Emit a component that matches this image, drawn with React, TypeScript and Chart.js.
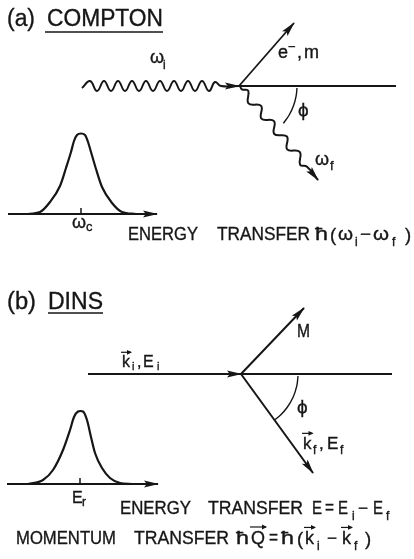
import React, { useEffect, useRef } from 'react';
import { Chart, registerables } from 'chart.js';

Chart.register(...registerables);

// ---------- data (diagram coordinates, x 0..414, y 0..559 downwards) ----------
// (a) Compton: resonance peak
const peakAX = [26, 40, 50, 60, 66, 71, 74, 77, 81, 85, 88, 91, 96, 102, 112, 122, 136];
const peakAY = [214, 212, 202, 186, 168, 152, 141, 135, 133.5, 135, 142, 152, 169, 187, 203, 212, 214];
const axisAX = [8, 157];
const axisAY = [214, 214];
const tickAX = [81, 81];
const tickAY = [208, 214];
// incident photon (wavy) ending at the vertex
const waveAX = [82, 90, 97, 104, 111, 118, 125, 132, 139, 146, 153, 160, 167, 174, 181, 188, 195, 202, 209, 215, 221, 239];
const waveAY = [88, 81, 91, 81, 91, 81, 91, 81, 91, 81, 91, 81, 91, 81, 91, 81, 91, 81, 91, 82, 86, 86];
// reference line, recoil electron, scattered photon, angle arc
const refAX = [239, 396];
const refAY = [86, 86];
const elecX = [239, 294];
const elecY = [86, 23];
const photX = [240, 241.9, 248.2, 248.5, 261.1, 261.4, 274.0, 274.3, 286.9, 287.2, 299.7, 300.1, 307.0, 318];
const photY = [86, 89.3, 90.6, 103.4, 105.9, 118.7, 121.2, 134.0, 136.5, 149.3, 151.8, 164.7, 166.7, 180];
const arcAX = [297.0, 296.1, 293.5, 289.2, 283.4];
const arcAY = [88.0, 96.1, 105.8, 115.0, 123.3];

// (b) DINS
const peakBX = [28, 43, 53, 63, 70, 74, 78, 80.5, 83, 87, 91, 95, 102, 110, 120, 132];
const peakBY = [484, 480, 470, 450, 430, 417, 411.5, 411, 411.5, 420, 437, 453, 468, 478, 483, 484];
const axisBX = [7, 158];
const axisBY = [484, 484];
const tickBX = [80, 80];
const tickBY = [478, 484];
const inBX = [88, 241];
const inBY = [374, 374];
const refBX = [241, 392];
const refBY = [374, 374];
const mX = [241, 304];
const mY = [374, 308];
const kfX = [241, 313];
const kfY = [374, 473];
const arcBX = [298.0, 296.8, 293.1, 287.1, 280.6, 274.5];
const arcBY = [376.0, 385.9, 397.2, 407.5, 415.0, 420.1];

// ---------- text ----------
type Tok = { t: string; x: number; y: number; s: number; w?: number; vec?: boolean };
const titleTokens: Tok[] = [
  { t: '(a)', x: 7, y: 26, s: 23, w: 28 },
  { t: 'COMPTON', x: 47, y: 26, s: 23, w: 116 },
  { t: '(b)', x: 7, y: 309, s: 23, w: 29 },
  { t: 'DINS', x: 48, y: 309, s: 23, w: 55 },
];
const underlines = [
  { x1: 45, x2: 163, y: 32 },
  { x1: 48, x2: 103, y: 313 },
];
const labelTokens: Tok[] = [
  // (a)
  { t: 'ω', x: 150, y: 63, s: 18 },
  { t: 'i', x: 163, y: 69, s: 12 },
  { t: 'e', x: 278, y: 58, s: 18 },
  { t: '−', x: 288, y: 51, s: 13 },
  { t: ',', x: 297, y: 58, s: 18 },
  { t: 'm', x: 304, y: 58, s: 18 },
  { t: 'ϕ', x: 298, y: 116, s: 19 },
  { t: 'ω', x: 315, y: 165, s: 18 },
  { t: 'f', x: 330, y: 170, s: 13 },
  { t: 'ω', x: 72, y: 228, s: 18 },
  { t: 'c', x: 86, y: 231, s: 13 },
  { t: 'ENERGY', x: 128, y: 240, s: 18.5, w: 70 },
  { t: 'TRANSFER', x: 217, y: 240, s: 18.5, w: 93 },
  { t: 'ħ', x: 315, y: 240, s: 18.5, w: 13 },
  { t: '(', x: 330, y: 241, s: 18.5 },
  { t: 'ω', x: 338, y: 240, s: 18, w: 15 },
  { t: 'i', x: 355, y: 246, s: 12 },
  { t: '−', x: 360, y: 240, s: 18, w: 11 },
  { t: 'ω', x: 373, y: 240, s: 18, w: 16 },
  { t: 'f', x: 392, y: 246, s: 12 },
  { t: ')', x: 405, y: 241, s: 18.5 },
  // (b)
  { t: 'k', x: 122, y: 367, s: 16, vec: true },
  { t: 'i', x: 132, y: 370, s: 11 },
  { t: ',', x: 137, y: 367, s: 16 },
  { t: 'E', x: 143, y: 367, s: 16 },
  { t: 'i', x: 157, y: 370, s: 11 },
  { t: 'M', x: 297, y: 337, s: 18, w: 13 },
  { t: 'ϕ', x: 297, y: 413, s: 19 },
  { t: 'k', x: 303, y: 449, s: 17, vec: true },
  { t: 'f', x: 313, y: 454, s: 12 },
  { t: ',', x: 319, y: 449, s: 17 },
  { t: 'E', x: 327, y: 449, s: 17 },
  { t: 'f', x: 340, y: 454, s: 12 },
  { t: 'E', x: 72, y: 503, s: 16 },
  { t: 'r', x: 82, y: 506, s: 12 },
  { t: 'ENERGY', x: 120, y: 514, s: 18.5, w: 71 },
  { t: 'TRANSFER', x: 208, y: 514, s: 18.5, w: 95 },
  { t: 'E', x: 312, y: 514, s: 18.5, w: 10 },
  { t: '=', x: 325, y: 513, s: 18, w: 9 },
  { t: 'E', x: 338, y: 514, s: 18.5, w: 10 },
  { t: 'i', x: 352, y: 520, s: 12 },
  { t: '−', x: 358, y: 514, s: 18, w: 10 },
  { t: 'E', x: 373, y: 514, s: 18.5, w: 10 },
  { t: 'f', x: 386, y: 520, s: 12 },
  { t: 'MOMENTUM', x: 16, y: 544, s: 18.5, w: 100 },
  { t: 'TRANSFER', x: 134, y: 544, s: 18.5, w: 95 },
  { t: 'ħ', x: 236, y: 544, s: 18.5, w: 13 },
  { t: 'Q', x: 251, y: 544, s: 18.5, w: 14, vec: true },
  { t: '=', x: 269, y: 543, s: 18, w: 9 },
  { t: 'ħ', x: 281, y: 544, s: 18.5, w: 13 },
  { t: '(', x: 297, y: 545, s: 18.5 },
  { t: 'k', x: 305, y: 544, s: 18, vec: true },
  { t: 'i', x: 317, y: 550, s: 12 },
  { t: '−', x: 327, y: 544, s: 18, w: 10 },
  { t: 'k', x: 342, y: 544, s: 18, vec: true },
  { t: 'f', x: 354, y: 550, s: 12 },
  { t: ')', x: 365, y: 545, s: 18.5 },
];

const INK = '#161616';
const FONT = '"Liberation Sans", "DejaVu Sans", Arial, sans-serif';

const pts = (xs: number[], ys: number[]) => xs.map((x, i) => ({ x, y: ys[i] }));

const arrowPlugin = {
  id: 'arrowHeads',
  afterDatasetsDraw(chart: any) {
    const { ctx } = chart;
    const sx = chart.scales.x;
    const sy = chart.scales.y;
    chart.data.datasets.forEach((ds: any) => {
      if (!ds.arrow) return;
      const d = ds.data;
      const a = d[d.length - 2];
      const b = d[d.length - 1];
      const x1 = sx.getPixelForValue(a.x);
      const y1 = sy.getPixelForValue(a.y);
      const x2 = sx.getPixelForValue(b.x);
      const y2 = sy.getPixelForValue(b.y);
      const ang = Math.atan2(y2 - y1, x2 - x1);
      const L = 14;
      const W = 3.6;
      ctx.save();
      ctx.translate(x2, y2);
      ctx.rotate(ang);
      ctx.beginPath();
      ctx.moveTo(1, 0);
      ctx.lineTo(-L, -W);
      ctx.lineTo(-L * 0.8, 0);
      ctx.lineTo(-L, W);
      ctx.closePath();
      ctx.fillStyle = INK;
      ctx.fill();
      ctx.restore();
    });
  },
};

function drawTok(ctx: CanvasRenderingContext2D, sx: any, sy: any, k: Tok) {
  const x = sx.getPixelForValue(k.x);
  const y = sy.getPixelForValue(k.y);
  ctx.font = `${k.s}px ${FONT}`;
  const mw = ctx.measureText(k.t).width;
  const f = k.w ? k.w / mw : 1;
  ctx.save();
  ctx.translate(x, y);
  ctx.scale(f, 1);
  ctx.fillText(k.t, 0, 0);
  ctx.lineWidth = 0.35;
  ctx.strokeText(k.t, 0, 0);
  ctx.restore();
  if (k.vec) {
    const w = mw * f;
    const yy = y - k.s * 0.92;
    ctx.save();
    ctx.lineWidth = 1.2;
    ctx.strokeStyle = INK;
    ctx.beginPath();
    ctx.moveTo(x - 1, yy);
    ctx.lineTo(x + w + 1, yy);
    ctx.stroke();
    ctx.beginPath();
    ctx.moveTo(x + w + 2, yy);
    ctx.lineTo(x + w - 3, yy - 2.4);
    ctx.lineTo(x + w - 3, yy + 2.4);
    ctx.closePath();
    ctx.fillStyle = INK;
    ctx.fill();
    ctx.restore();
  }
}

const textPlugin = {
  id: 'diagramText',
  afterDraw(chart: any) {
    const { ctx } = chart;
    const sx = chart.scales.x;
    const sy = chart.scales.y;
    ctx.save();
    ctx.fillStyle = INK;
    ctx.strokeStyle = INK;
    ctx.textBaseline = 'alphabetic';
    ctx.textAlign = 'left';
    [...titleTokens, ...labelTokens].forEach((k) => drawTok(ctx, sx, sy, k));
    ctx.lineWidth = 1.6;
    underlines.forEach((u) => {
      const yy = sy.getPixelForValue(u.y);
      ctx.beginPath();
      ctx.moveTo(sx.getPixelForValue(u.x1), yy);
      ctx.lineTo(sx.getPixelForValue(u.x2), yy);
      ctx.stroke();
    });
    ctx.restore();
  },
};

function line(xs: number[], ys: number[], extra: any = {}) {
  return {
    data: pts(xs, ys),
    showLine: true,
    borderColor: INK,
    backgroundColor: INK,
    borderWidth: 2,
    pointRadius: 0,
    pointHoverRadius: 0,
    fill: false,
    tension: 0,
    ...extra,
  };
}

export default function App() {
  const ref = useRef<HTMLCanvasElement | null>(null);
  useEffect(() => {
    if (!ref.current) return;
    document.body.style.margin = '0';
    const chart = new Chart(ref.current, {
      type: 'scatter',
      data: {
        datasets: [
          line(peakAX, peakAY, { cubicInterpolationMode: 'monotone', borderWidth: 2.2 }),
          line(axisAX, axisAY, { arrow: true }),
          line(tickAX, tickAY, { borderWidth: 1.5 }),
          line(waveAX, waveAY, { tension: 0.45, arrow: true }),
          line(refAX, refAY, { borderWidth: 1.8 }),
          line(elecX, elecY, { arrow: true, borderWidth: 1.8 }),
          line(photX, photY, { tension: 0.45, arrow: true }),
          line(arcAX, arcAY, { tension: 0.4, borderWidth: 1.4 }),
          line(peakBX, peakBY, { cubicInterpolationMode: 'monotone', borderWidth: 2.2 }),
          line(axisBX, axisBY, { arrow: true }),
          line(tickBX, tickBY, { borderWidth: 1.5 }),
          line(inBX, inBY, { arrow: true }),
          line(refBX, refBY, { borderWidth: 1.8 }),
          line(mX, mY, { arrow: true }),
          line(kfX, kfY, { arrow: true }),
          line(arcBX, arcBY, { tension: 0.4, borderWidth: 1.4 }),
        ] as any,
      },
      options: {
        animation: false,
        responsive: true,
        maintainAspectRatio: false,
        events: [],
        layout: { padding: 0 },
        scales: {
          x: { type: 'linear', min: 0, max: 414, display: false },
          y: { type: 'linear', min: 0, max: 559, reverse: true, display: false },
        },
        plugins: { legend: { display: false }, tooltip: { enabled: false }, title: { display: false } },
      },
      plugins: [arrowPlugin, textPlugin],
    });
    return () => chart.destroy();
  }, []);
  return (
    <div style={{ position: 'absolute', left: 0, top: 0, width: 414, height: 559, background: '#fff' }}>
      <canvas ref={ref} />
    </div>
  );
}
